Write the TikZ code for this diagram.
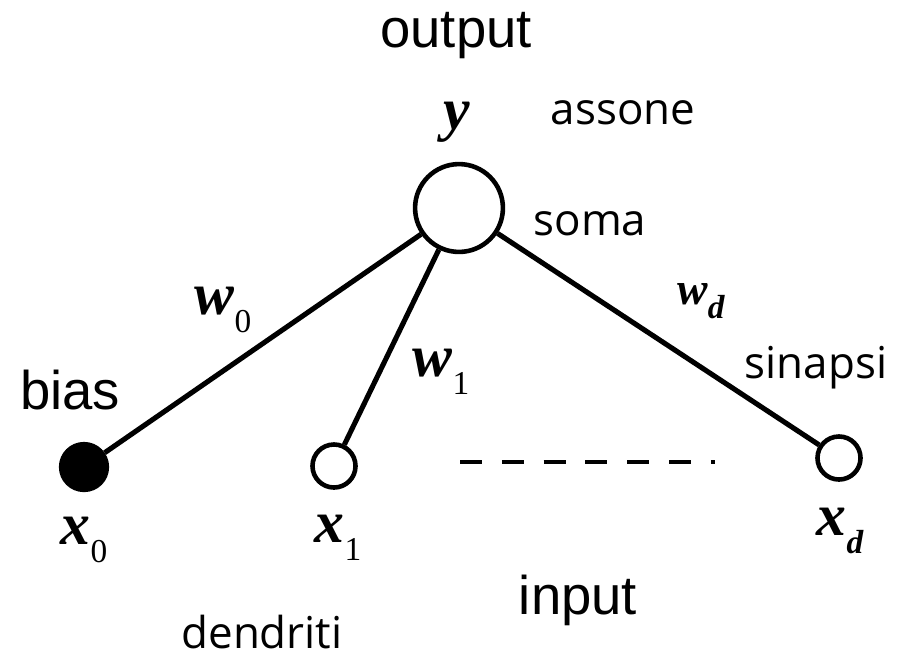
\documentclass[tikz,border=0pt]{standalone}
\usepackage{fontspec}
\setmainfont{Liberation Serif}
\newfontfamily\lblfont{Liberation Sans}
\newfontfamily\annfont{Open Sans}
\newcommand{\subup}[1]{\raisebox{-0.3em}{\fontsize{19}{20}\selectfont\upshape\mdseries #1}}
\newcommand{\subit}[1]{\raisebox{-0.3em}{\fontsize{19}{20}\selectfont\itshape #1}}
\begin{document}
\begin{tikzpicture}[x=0.02cm,y=-0.02cm,
  unit/.style={circle,draw,line width=2.6pt,inner sep=0pt},
  conn/.style={line width=2.9pt},
  lbl/.style={font=\lblfont\fontsize{31}{36}\selectfont},
  ann/.style={font=\annfont\fontsize{25}{30}\selectfont},
  mth/.style={font=\fontsize{34}{40}\selectfont\bfseries\itshape,inner sep=0pt}]
\useasboundingbox (0,0) rectangle (898,657);
\node[unit,minimum size=50pt] (soma) at (459,208) {};
\node[unit,fill=black,minimum size=26pt] (x0) at (84,467) {};
\node[unit,minimum size=24.5pt] (x1) at (334,466) {};
\node[unit,minimum size=24.5pt] (xd) at (839,458) {};
\draw[conn] (soma) -- (x0);
\draw[conn] (soma) -- (x1);
\draw[conn] (soma) -- (xd);
\coordinate (da) at (460,462);
\coordinate (db) at (715,462);
\draw[line width=2.4pt,dash pattern=on 12.5pt off 11.3pt] (da) -- (db);
\node[lbl] (out) at (456,36) {output};
\node[lbl] (bias) at (70,390) {bias};
\node[lbl] (inp) at (578,600) {input};
\node[ann] (ass) at (623,113) {assone};
\node[ann] (som) at (590,224) {soma};
\node[ann] (sin) at (816,368) {sinapsi};
\node[ann] (den) at (262,632) {dendriti};
\node[mth] (y) at (457,122) {y};
\node[mth] (w0) at (223,310) {w\subup{0}};
\node[mth] (w1) at (441,372) {w\subup{1}};
\node[mth,font=\fontsize{26}{30}\selectfont\bfseries\itshape] (wd) at (701,301) {w\subit{d}};
\node[mth] (lx0) at (84,540) {x\subup{0}};
\node[mth] (lx1) at (338,538) {x\subup{1}};
\node[mth] (lxd) at (840,531) {x\subit{d}};
\end{tikzpicture}
\end{document}
